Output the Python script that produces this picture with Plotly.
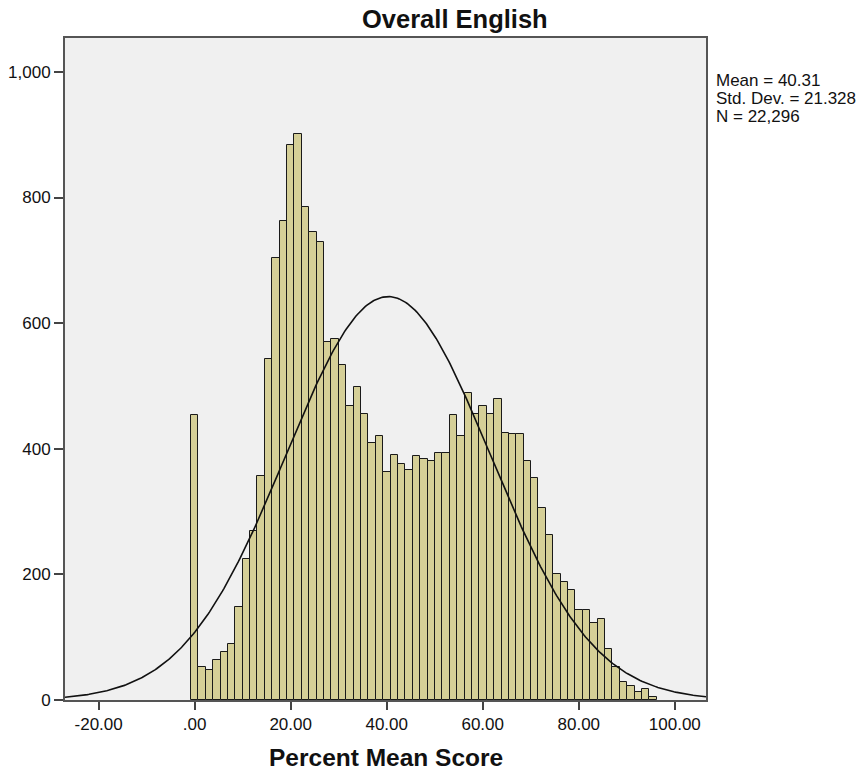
import numpy as np
import plotly.graph_objects as go

# ---- data ----
bin_width = 1.54
counts = [454,
          53, 47, 63, 76, 89, 148, 225, 269, 356,
          543, 704, 763, 884, 901, 785, 745, 729, 570, 575,
          534, 468, 498, 455, 409, 420, 363, 390, 375, 366,
          388, 384, 380, 394, 393, 453, 421, 489, 456, 468,
          456, 479, 425, 423, 423, 381, 354, 306, 262, 201,
          188, 175, 144, 144, 122, 129, 82, 52, 28, 23, 12, 18, 5]
bin_centers = [i * bin_width for i in range(len(counts))]

mean_val = 40.31
sd_val = 21.328
n_val = 22296
stats_lines = ["Mean = 40.31", "Std. Dev. = 21.328", "N = 22,296"]

x_tickvals = [-20, 0, 20, 40, 60, 80, 100]
x_ticktext = ["-20.00", ".00", "20.00", "40.00", "60.00", "80.00", "100.00"]
y_tickvals = [0, 200, 400, 600, 800, 1000]

x_range = [-27.0, 106.5]
y_range = [0, 1054]

# normal curve fitted with the stated mean / sd / N
xc = np.linspace(x_range[0], x_range[1], 400)
yc = n_val * bin_width / (sd_val * np.sqrt(2 * np.pi)) * np.exp(-0.5 * ((xc - mean_val) / sd_val) ** 2)

font_family = "Arial, Liberation Sans, sans-serif"
W, H = 862, 771
plot_left, plot_right = 65, 706
plot_top, plot_bot = 38, 700
ph = plot_bot - plot_top
pw = plot_right - plot_left


def py(y_px):
    return (plot_bot - y_px) / ph


def px(x_px):
    return (x_px - plot_left) / pw


fig = go.Figure()
fig.add_trace(go.Bar(
    x=bin_centers, y=counts, width=bin_width,
    marker=dict(color="#D5CF97", line=dict(color="#1a1a1a", width=1)),
    hoverinfo="x+y", showlegend=False,
))
fig.add_trace(go.Scatter(
    x=xc, y=yc, mode="lines",
    line=dict(color="#111111", width=1.6),
    showlegend=False, hoverinfo="skip",
))

annotations = []
for yc_px, line in zip([80, 98.5, 117], stats_lines):
    annotations.append(dict(
        text=line, xref="paper", yref="paper", x=px(715), y=py(yc_px),
        xanchor="left", yanchor="middle", align="left", showarrow=False,
        borderpad=0, font=dict(size=17, color="#111111")))
annotations.append(dict(
    text="<b>Overall English</b>", xref="paper", yref="paper", x=px(361), y=py(19),
    xanchor="left", yanchor="middle", showarrow=False, borderpad=0,
    font=dict(size=25.5, color="#111111")))
annotations.append(dict(
    text="<b>Percent Mean Score</b>", xref="paper", yref="paper", x=0.5, y=py(757),
    xanchor="center", yanchor="middle", showarrow=False, borderpad=0,
    font=dict(size=24.5, color="#111111")))

fig.update_layout(
    width=W, height=H,
    margin=dict(l=plot_left, r=W - plot_right, t=plot_top, b=H - plot_bot),
    paper_bgcolor="white",
    plot_bgcolor="#F0F0F0",
    font=dict(family=font_family, size=17, color="#111111"),
    bargap=0,
    annotations=annotations,
)
fig.update_xaxes(
    range=x_range, tickvals=x_tickvals, ticktext=x_ticktext,
    showgrid=False, zeroline=False, automargin=False,
    ticks="outside", ticklen=8, tickwidth=1.5, tickcolor="#444444",
    showline=True, linecolor="#555555", linewidth=2, mirror=True,
    tickfont=dict(size=17),
)
fig.update_yaxes(
    range=y_range, tickvals=y_tickvals, tickformat=",",
    showgrid=False, zeroline=False, automargin=False,
    ticks="outside", ticklen=9, tickwidth=1.5, tickcolor="#444444",
    showline=True, linecolor="#555555", linewidth=2, mirror=True,
    tickfont=dict(size=17),
)

fig.write_html("out.html")
